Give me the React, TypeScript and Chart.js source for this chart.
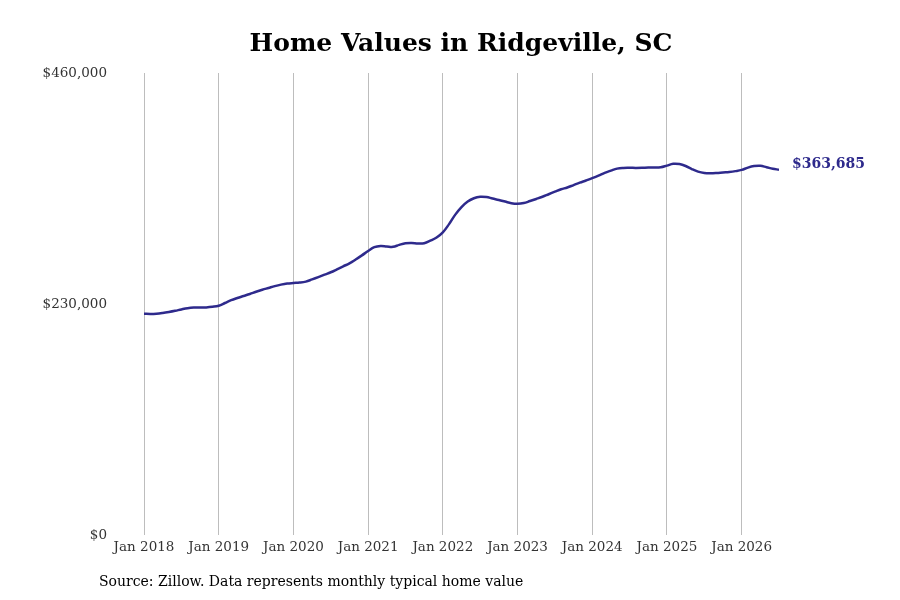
import React, { useEffect, useRef } from "react";
import Chart from "chart.js/auto";

// monthly typical home value, Jan 2018 .. Jul 2026
const homeValues: number[] = [
	220300, 220100, 220300, 221000, 222000, 223200, 224600, 225800, 226400, 226500, 226600, 227200,
	228300, 231000, 233800, 236000, 238000, 240000, 242200, 244200, 246000, 247800, 249300, 250400,
	250900, 251300, 252300, 254500, 256800, 259200, 261600, 264500, 267500, 270500, 274300, 278400,
	282800, 286600, 287800, 287300, 286900, 288900, 290500, 290800, 290200, 290500, 293000, 296200,
	301300, 309500, 319000, 326500, 332000, 335300, 336800, 336500, 335000, 333600, 332000, 330400,
	329800, 330500, 332500, 334600, 336800, 339300, 341800, 344200, 346000, 348400, 350800, 353000,
	355300, 357800, 360600, 362800, 364800, 365500, 365600, 365500, 365600, 365900, 365800, 366100,
	367800, 369600, 369300, 367400, 364300, 361800, 360400, 360100, 360400, 361000, 361500, 362300,
	363500, 365800, 367300, 367600, 366200, 364700, 363685,
];

const xTickLabels: string[] = [
	"Jan 2018", "Jan 2019", "Jan 2020", "Jan 2021", "Jan 2022",
	"Jan 2023", "Jan 2024", "Jan 2025", "Jan 2026",
];
const yTickValues: number[] = [0, 230000, 460000];

const LINE_COLOR = "#2e2a8c";
const SERIF = "'DejaVu Serif', serif";

const fmtMoney = (v: number) => "$" + v.toLocaleString("en-US");

const textPlugin = {
	id: "extraText",
	afterDraw(chart: any) {
		const ctx = chart.ctx;
		ctx.save();
		// title
		ctx.fillStyle = "#000";
		ctx.font = `bold 25px ${SERIF}`;
		ctx.textAlign = "center";
		ctx.textBaseline = "middle";
		ctx.fillText("Home Values in Ridgeville, SC", 461, 44);
		// source
		ctx.font = `14px ${SERIF}`;
		ctx.textAlign = "left";
		ctx.fillText("Source: Zillow. Data represents monthly typical home value", 99, 582);
		// end label
		const meta = chart.getDatasetMeta(0);
		const last = meta.data[meta.data.length - 1];
		if (last) {
			ctx.fillStyle = LINE_COLOR;
			ctx.font = `bold 14px ${SERIF}`;
			ctx.fillText(fmtMoney(homeValues[homeValues.length - 1]), last.x + 13, last.y - 5);
		}
		ctx.restore();
	},
};

const HomeValueChart: React.FC = () => {
	const chartRef = useRef<HTMLCanvasElement>(null);
	const chartInstance = useRef<Chart | null>(null);

	useEffect(() => {
		document.body.style.margin = "0";
		if (chartRef.current) {
			if (chartInstance.current) {
				chartInstance.current.destroy();
			}
			const ctx = chartRef.current.getContext("2d");
			if (ctx) {
				chartInstance.current = new Chart(ctx, {
					type: "line",
					data: {
						datasets: [
							{
								label: "Home value",
								data: homeValues.map((v, i) => ({ x: i, y: v })),
								borderColor: LINE_COLOR,
								backgroundColor: LINE_COLOR,
								borderWidth: 2.5,
								tension: 0.4,
								pointRadius: 0,
								fill: false,
							},
						],
					},
					options: {
						animation: false,
						responsive: false,
						maintainAspectRatio: false,
						layout: {
							padding: { top: 73, bottom: 35, right: 121, left: 0 },
						},
						plugins: {
							legend: { display: false },
							tooltip: { enabled: false },
							title: { display: false },
						},
						scales: {
							x: {
								type: "linear",
								min: 0,
								max: homeValues.length - 1,
								grid: {
									display: true,
									color: "#bdbdbd",
									lineWidth: 1,
									drawTicks: false,
								},
								border: { display: false },
								afterBuildTicks: (scale: any) => {
									scale.ticks = xTickLabels.map((_, i) => ({ value: i * 12 }));
								},
								afterFit: (scale: any) => {
									scale.height = 30;
								},
								ticks: {
									color: "#333",
									font: { family: SERIF, size: 13.5 },
									padding: 4,
									maxRotation: 0,
									autoSkip: false,
									callback: (v: any) => xTickLabels[Math.round(Number(v) / 12)] ?? "",
								},
							},
							y: {
								min: 0,
								max: 460000,
								grid: { display: false, drawTicks: false },
								border: { display: false },
								afterBuildTicks: (scale: any) => {
									scale.ticks = yTickValues.map((v) => ({ value: v }));
								},
								afterFit: (scale: any) => {
									scale.width = 144;
								},
								ticks: {
									color: "#333",
									font: { family: SERIF, size: 13.5 },
									padding: 37,
									callback: (v: any) => fmtMoney(Number(v)),
								},
							},
						},
					},
					plugins: [textPlugin],
				});
			}
		}
		return () => {
			if (chartInstance.current) {
				chartInstance.current.destroy();
				chartInstance.current = null;
			}
		};
	}, []);

	return (
		<div style={{ width: 900, height: 600, background: "#fff" }}>
			<canvas ref={chartRef} width={900} height={600}></canvas>
		</div>
	);
};

export default function App() {
	return <HomeValueChart />;
}
